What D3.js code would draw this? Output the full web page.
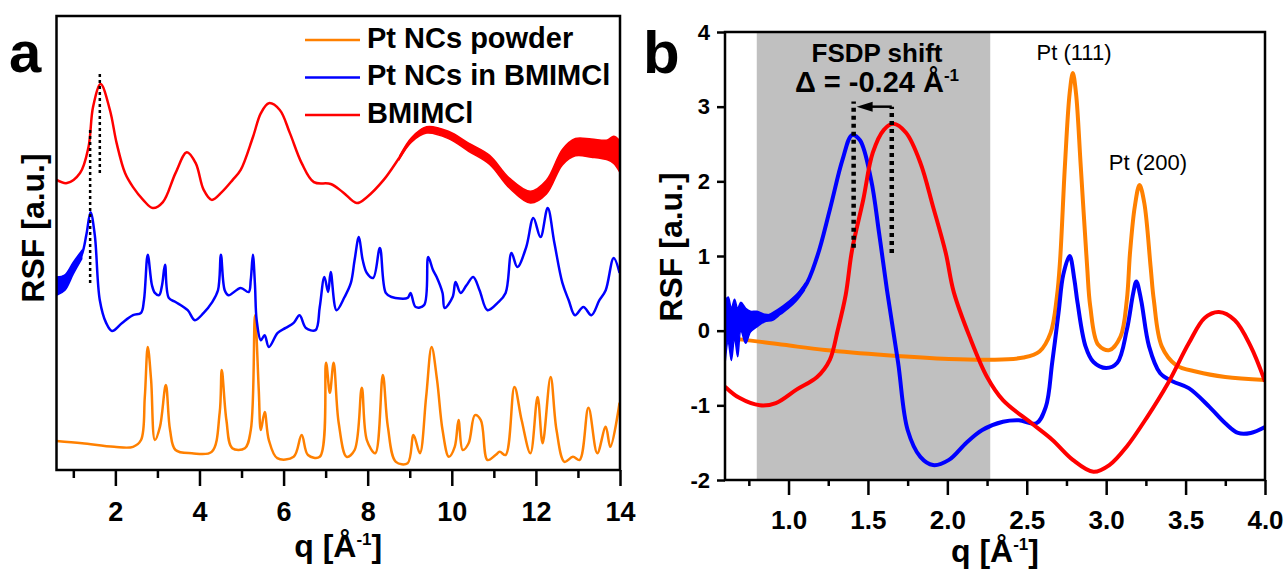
<!DOCTYPE html>
<html>
<head>
<meta charset="utf-8">
<script src="https://cdn.jsdelivr.net/npm/d3@7"></script>
<style>
  body { margin: 0; background: #fff; }
  svg { display: block; }
  text { font-family: "Liberation Sans", Arial, sans-serif; }
</style>
</head>
<body>
<svg id="chart" width="1288" height="570"></svg>
<script>
// ---------- Panel a: stacked RSF curves (arbitrary units, offsets included) ----------
const aBmimQ = [0.6,0.85,1.16,1.36,1.47,1.65,1.87,2.03,2.23,2.42,2.66,2.89,3.13,3.43,3.70,3.91,4.10,4.29,4.53,4.79,4.98,5.27,5.46,5.65,5.91,6.15,6.43,6.72,7.12,7.41,7.74,7.98,8.38,8.76,9.04,9.40,9.92,10.40,10.90,11.37,11.87,12.25,12.63,12.94,13.32,13.70,14.0];
const aBmimV = [63.9,63.2,65.4,71.1,80.0,85.0,79.3,72.0,65.4,62.3,59.5,57.7,59.0,65.4,70.0,67.6,61.7,59.5,61.2,63.9,66.1,73.3,78.6,80.8,79.3,74.2,67.6,63.4,63.0,61.2,58.8,60.1,63.9,68.9,72.7,74.9,73.8,71.1,68.3,63.2,60.1,62.3,68.9,71.1,70.9,70.5,68.9];
// scatter envelope of the noisy high-q tail
const aBmimNoiseQ  = [8.76,9.04,9.40,9.92,10.40,10.90,11.37,11.87,12.25,12.63,12.94,13.32,13.70,13.85,14.0];
const aBmimNoiseHi = [69.2,73.2,75.6,74.6,72.0,69.3,64.3,61.4,63.8,70.6,73.0,72.9,72.7,73.5,72.5];
const aBmimNoiseLo = [68.6,72.2,74.2,73.0,70.2,67.3,62.1,58.8,60.8,67.2,69.2,68.9,68.3,67.5,65.5];

const aInBmimQ = [0.6,0.8,1.0,1.2,1.31,1.41,1.51,1.63,1.78,1.92,2.16,2.42,2.61,2.68,2.77,2.87,2.94,3.04,3.11,3.18,3.27,3.43,3.72,3.89,4.10,4.29,4.44,4.51,4.60,4.69,4.98,5.17,5.22,5.27,5.32,5.36,5.46,5.55,5.65,5.86,6.05,6.24,6.38,6.53,6.76,6.86,6.97,7.06,7.12,7.26,7.45,7.60,7.69,7.79,7.88,7.98,8.13,8.29,8.43,8.57,8.95,9.02,9.14,9.34,9.44,9.55,9.64,9.78,9.83,10.02,10.09,10.21,10.35,10.51,10.66,10.85,11.09,11.28,11.42,11.56,11.77,11.94,12.11,12.28,12.44,12.63,12.78,12.93,13.13,13.32,13.51,13.66,13.85,13.99];
const aInBmimV = [40.7,41.4,44.5,47.4,51.8,56.8,51.8,37.4,32.4,30.6,32.4,34.1,34.6,37.4,47.4,40.7,39.0,38.5,40.7,45.2,37.9,37.0,35.2,33.0,34.6,36.8,39.6,47.4,39.6,38.5,40.1,39.2,41.9,47.4,40.7,33.0,28.6,29.7,27.1,30.2,31.3,32.4,34.1,31.3,30.8,35.9,42.5,39.2,43.6,35.2,38.1,41.2,46.3,51.3,46.3,43.4,42.3,48.9,39.0,38.1,37.9,39.0,35.9,36.3,46.9,44.1,42.5,39.0,35.7,38.1,41.4,39.0,40.7,42.5,39.6,35.2,36.8,39.0,47.8,44.7,49.1,55.5,51.3,57.7,50.0,41.2,37.4,34.1,35.9,34.1,37.4,39.6,46.7,43.4];
const aInBmimNoiseQ  = [0.6,0.8,1.0,1.2];
const aInBmimNoiseHi = [42.5,43.0,45.8,48.3];
const aInBmimNoiseLo = [38.5,39.6,43.2,46.5];

const aPowderQ = [0.6,1.21,1.97,2.42,2.61,2.70,2.77,2.85,2.94,3.06,3.20,3.30,3.43,3.82,4.29,4.48,4.53,4.64,4.78,5.08,5.22,5.32,5.41,5.46,5.55,5.65,5.85,6.24,6.43,6.58,6.86,7.01,7.10,7.19,7.31,7.50,7.69,7.86,7.98,8.18,8.36,8.48,8.67,8.95,9.09,9.24,9.39,9.52,9.65,9.78,9.93,10.07,10.16,10.26,10.40,10.55,10.69,10.85,11.04,11.14,11.28,11.49,11.66,11.87,12.04,12.16,12.35,12.49,12.68,12.88,13.04,13.25,13.46,13.66,13.77,13.99];
const aPowderV = [6.4,5.9,5.1,5.1,6.6,16.1,27.1,19.8,6.6,9.5,18.7,8.8,4.4,3.7,4.0,12.6,22.0,11.0,4.8,4.8,8.8,34.1,17.6,8.8,12.8,6.6,2.6,2.9,7.7,3.3,2.9,23.6,17.0,23.6,10.4,2.9,4.4,18.1,6.6,3.7,20.9,9.5,1.8,1.5,7.7,3.7,16.1,27.1,19.8,8.8,2.9,5.1,11.0,4.4,5.9,12.1,11.0,2.2,3.3,4.0,3.3,18.3,11.0,3.7,16.1,5.9,20.5,8.8,1.8,2.9,2.2,13.7,3.7,9.5,5.1,14.8];

const aXTicks = [2,4,6,8,10,12,14];
const aXMinor = [1,3,5,7,9,11,13];
// FSDP markers (q, from, to)
const aFsdpInBmim = [1.40, 41.2, 75.3];
const aFsdpBmim   = [1.63, 65.4, 87.7];

// ---------- Panel b: RSF, low-q region ----------
const bBmimQ = [0.60,0.69,0.82,0.92,1.05,1.18,1.26,1.31,1.36,1.40,1.47,1.53,1.60,1.66,1.74,1.83,1.91,1.99,2.04,2.14,2.25,2.35,2.53,2.66,2.79,2.92,3.02,3.13,3.26,3.39,3.52,3.62,3.71,3.81,3.91,4.00];
const bBmimV = [-0.75,-0.90,-1.00,-0.97,-0.79,-0.62,-0.39,0.01,0.48,1.08,1.75,2.38,2.69,2.77,2.65,2.25,1.66,1.04,0.52,-0.08,-0.62,-0.93,-1.24,-1.46,-1.73,-1.89,-1.80,-1.55,-1.15,-0.70,-0.17,0.17,0.25,0.14,-0.21,-0.68];

const bInBmimQ = [0.60,0.74,0.84,0.97,1.10,1.18,1.26,1.34,1.40,1.45,1.52,1.57,1.62,1.69,1.75,1.83,1.91,2.01,2.12,2.22,2.35,2.45,2.56,2.62,2.66,2.70,2.73,2.77,2.80,2.82,2.87,2.92,3.00,3.07,3.13,3.17,3.19,3.22,3.27,3.34,3.42,3.52,3.65,3.75,3.83,3.91,4.00];
const bInBmimV = [0.15,0.19,0.17,0.32,0.58,0.99,1.62,2.29,2.62,2.55,2.02,1.31,0.54,-0.43,-1.33,-1.69,-1.80,-1.73,-1.50,-1.33,-1.22,-1.20,-1.24,-1.02,-0.43,0.24,0.75,1.00,0.68,0.37,-0.21,-0.42,-0.50,-0.43,0.01,0.50,0.66,0.41,-0.21,-0.57,-0.68,-0.77,-1.02,-1.24,-1.37,-1.37,-1.29];
const bInBmimNoiseQ  = [0.60,0.62,0.64,0.66,0.68,0.70,0.73,0.76,0.80,0.85,0.90,0.95,1.00,1.05,1.10];
const bInBmimNoiseHi = [0.40,0.45,0.30,0.42,0.30,0.38,0.30,0.26,0.26,0.22,0.22,0.30,0.38,0.48,0.62];
const bInBmimNoiseLo = [-0.45,-0.15,-0.40,-0.10,-0.35,0.00,-0.17,-0.02,0.05,0.12,0.14,0.22,0.30,0.40,0.54];

const bPowderQ = [0.60,0.71,0.97,1.23,1.62,2.01,2.27,2.48,2.58,2.65,2.69,2.71,2.74,2.77,2.79,2.81,2.84,2.88,2.90,2.95,3.02,3.09,3.13,3.15,3.18,3.21,3.24,3.28,3.30,3.35,3.44,3.57,3.75,4.00];
const bPowderV = [-0.10,-0.12,-0.19,-0.26,-0.33,-0.38,-0.39,-0.36,-0.28,-0.03,0.46,0.95,2.20,3.18,3.45,3.18,2.20,0.86,0.32,-0.19,-0.26,-0.08,0.41,1.04,1.66,1.95,1.71,0.85,0.41,-0.21,-0.46,-0.55,-0.62,-0.66];

const bXTicks = [1.0,1.5,2.0,2.5,3.0,3.5,4.0];
const bXMinor = [0.75,1.25,1.75,2.25,2.75,3.25,3.75];
const bYTicks = [-2,-1,0,1,2,3,4];
const bFsdpRegion = [0.80, 2.27];
const bFsdpInBmim = [1.41, 1.11, 3.07];
const bFsdpBmim   = [1.65, 1.04, 3.00];

const seriesNames = ["Pt NCs powder", "Pt NCs in BMIMCl", "BMIMCl"];
const seriesColors = ["#ff8000", "#0000ff", "#ff0000"];

// ---------- drawing ----------
const svg = d3.select("#chart");
svg.append("rect").attr("width", 1288).attr("height", 570).attr("fill", "#fff");

const zip = (qs, vs) => qs.map((q, i) => [q, vs[i]]);
const curve = d3.curveCatmullRom.alpha(0.5);

function drawSeries(g, x, y, qs, vs, color, width) {
  g.append("path")
    .datum(zip(qs, vs))
    .attr("d", d3.line().x(d => x(d[0])).y(d => y(d[1])).curve(curve))
    .attr("fill", "none").attr("stroke", color)
    .attr("stroke-width", width).attr("stroke-linejoin", "round");
}
function drawBand(g, x, y, qs, hi, lo, color) {
  g.append("path")
    .datum(qs.map((q, i) => ({ q, hi: hi[i], lo: lo[i] })))
    .attr("d", d3.area().x(d => x(d.q)).y0(d => y(d.lo)).y1(d => y(d.hi)).curve(curve))
    .attr("fill", color).attr("stroke", color).attr("stroke-width", 1.5);
}
function styleAxis(sel, fontSize) {
  sel.select(".domain").remove();
  sel.selectAll(".tick line").attr("stroke", "#000").attr("stroke-width", 2.5);
  sel.selectAll(".tick text").attr("fill", "#000")
    .style("font-size", fontSize + "px").style("font-weight", "bold");
}
function xTitle(x, yBase) {
  const t = svg.append("text").attr("x", x).attr("y", yBase)
    .attr("text-anchor", "middle").style("font-size", "32px").style("font-weight", "bold");
  t.append("tspan").text("q [Å");
  t.append("tspan").attr("dy", -12).style("font-size", "17px").text("-1");
  t.append("tspan").attr("dy", 12).text("]");
}
function yTitle(xBase, yc) {
  svg.append("text").attr("transform", `translate(${xBase},${yc}) rotate(-90)`)
    .attr("text-anchor", "middle").style("font-size", "32px").style("font-weight", "bold")
    .text("RSF [a.u.]");
}

// ----- panel a -----
const xa = d3.scaleLinear().domain([0.6, 14]).range([56.5, 620]);
const ya = d3.scaleLinear().domain([0, 100]).range([470, 16]);

svg.append("clipPath").attr("id", "clipA").append("rect")
  .attr("x", xa(0.6)).attr("y", ya(100)).attr("width", xa(14) - xa(0.6)).attr("height", ya(0) - ya(100));
const gA = svg.append("g").attr("clip-path", "url(#clipA)");

drawSeries(gA, xa, ya, aPowderQ, aPowderV, seriesColors[0], 2.5);
drawBand(gA, xa, ya, aInBmimNoiseQ, aInBmimNoiseHi, aInBmimNoiseLo, seriesColors[1]);
drawSeries(gA, xa, ya, aInBmimQ, aInBmimV, seriesColors[1], 2.5);
drawBand(gA, xa, ya, aBmimNoiseQ, aBmimNoiseHi, aBmimNoiseLo, seriesColors[2]);
drawSeries(gA, xa, ya, aBmimQ, aBmimV, seriesColors[2], 2.5);

[aFsdpInBmim, aFsdpBmim].forEach(m => {
  svg.append("line").attr("x1", xa(m[0])).attr("x2", xa(m[0]))
    .attr("y1", ya(m[1])).attr("y2", ya(m[2]))
    .attr("stroke", "#000").attr("stroke-width", 2.5).attr("stroke-dasharray", "3,3");
});

svg.append("g").attr("transform", `translate(0,${ya(0)})`)
  .call(d3.axisBottom(xa).tickValues(aXMinor).tickSize(8).tickSizeOuter(0).tickFormat(""))
  .call(s => styleAxis(s, 27));
svg.append("g").attr("transform", `translate(0,${ya(0)})`)
  .call(d3.axisBottom(xa).tickValues(aXTicks).tickSize(16).tickPadding(16).tickSizeOuter(0).tickFormat(d => String(d)))
  .call(s => styleAxis(s, 27));

svg.append("rect").attr("x", xa(0.6)).attr("y", ya(100))
  .attr("width", xa(14) - xa(0.6)).attr("height", ya(0) - ya(100))
  .attr("fill", "none").attr("stroke", "#000").attr("stroke-width", 2.5);

// legend
seriesNames.forEach((name, i) => {
  const ly = 40 + i * 37.5;
  svg.append("line").attr("x1", 305).attr("x2", 360).attr("y1", ly).attr("y2", ly)
    .attr("stroke", seriesColors[i]).attr("stroke-width", 2.5);
  svg.append("text").attr("x", 367).attr("y", ly + 7.5)
    .style("font-size", "29px").style("font-weight", "bold").text(name);
});

xTitle((xa(0.6) + xa(14)) / 2, 557);
yTitle(44, 228);
svg.append("text").attr("x", 9).attr("y", 72).style("font-size", "58px").style("font-weight", "bold").text("a");

// ----- panel b -----
const xb = d3.scaleLinear().domain([0.6, 4.0]).range([725, 1265]);
const yb = d3.scaleLinear().domain([-2, 4]).range([480, 32]);

svg.append("rect").attr("x", xb(bFsdpRegion[0])).attr("y", yb(4))
  .attr("width", xb(bFsdpRegion[1]) - xb(bFsdpRegion[0])).attr("height", yb(-2) - yb(4))
  .attr("fill", "#c0c0c0");

svg.append("clipPath").attr("id", "clipB").append("rect")
  .attr("x", xb(0.6)).attr("y", yb(4)).attr("width", xb(4) - xb(0.6)).attr("height", yb(-2) - yb(4));
const gB = svg.append("g").attr("clip-path", "url(#clipB)");

drawSeries(gB, xb, yb, bPowderQ, bPowderV, seriesColors[0], 4);
drawBand(gB, xb, yb, bInBmimNoiseQ, bInBmimNoiseHi, bInBmimNoiseLo, seriesColors[1]);
drawSeries(gB, xb, yb, bInBmimQ, bInBmimV, seriesColors[1], 4);
drawSeries(gB, xb, yb, bBmimQ, bBmimV, seriesColors[2], 4);

// FSDP shift markers
[bFsdpInBmim, bFsdpBmim].forEach(m => {
  svg.append("line").attr("x1", xb(m[0])).attr("x2", xb(m[0]))
    .attr("y1", yb(m[1])).attr("y2", yb(m[2]))
    .attr("stroke", "#000").attr("stroke-width", 4.5).attr("stroke-dasharray", "4,4");
});
const arrowY = yb(bFsdpBmim[2]);
const tipX = xb(bFsdpInBmim[0]) + 3;
svg.append("line").attr("x1", xb(bFsdpBmim[0])).attr("x2", tipX + 10)
  .attr("y1", arrowY).attr("y2", arrowY).attr("stroke", "#000").attr("stroke-width", 2.5);
svg.append("path")
  .attr("d", `M${tipX},${arrowY} L${tipX + 16},${arrowY - 5} L${tipX + 16},${arrowY + 5} Z`)
  .attr("fill", "#000");

svg.append("text").attr("x", 877).attr("y", 62).attr("text-anchor", "middle")
  .style("font-size", "26px").style("font-weight", "bold").text("FSDP shift");
const dt = svg.append("text").attr("x", 877).attr("y", 92).attr("text-anchor", "middle")
  .style("font-size", "29px").style("font-weight", "bold");
dt.append("tspan").text("Δ = -0.24 Å");
dt.append("tspan").attr("dy", -11).style("font-size", "17px").text("-1");

svg.append("text").attr("x", 1074).attr("y", 60).attr("text-anchor", "middle")
  .style("font-size", "22px").text("Pt (111)");
svg.append("text").attr("x", 1148).attr("y", 170).attr("text-anchor", "middle")
  .style("font-size", "22px").text("Pt (200)");

svg.append("g").attr("transform", `translate(0,${yb(-2)})`)
  .call(d3.axisBottom(xb).tickValues(bXMinor).tickSize(6).tickSizeOuter(0).tickFormat(""))
  .call(s => styleAxis(s, 26));
svg.append("g").attr("transform", `translate(0,${yb(-2)})`)
  .call(d3.axisBottom(xb).tickValues(bXTicks).tickSize(15).tickPadding(16).tickSizeOuter(0).tickFormat(d3.format(".1f")))
  .call(s => styleAxis(s, 26));
svg.append("g").attr("transform", `translate(${xb(0.6)},0)`)
  .call(d3.axisLeft(yb).tickValues(bYTicks).tickSize(8).tickPadding(7).tickSizeOuter(0).tickFormat(d => String(d)))
  .call(s => styleAxis(s, 22));

svg.append("rect").attr("x", xb(0.6)).attr("y", yb(4))
  .attr("width", xb(4) - xb(0.6)).attr("height", yb(-2) - yb(4))
  .attr("fill", "none").attr("stroke", "#000").attr("stroke-width", 2.5);

xTitle((xb(0.6) + xb(4)) / 2, 562);
yTitle(682, 247);
svg.append("text").attr("x", 643).attr("y", 73).style("font-size", "60px").style("font-weight", "bold").text("b");
</script>
</body>
</html>
